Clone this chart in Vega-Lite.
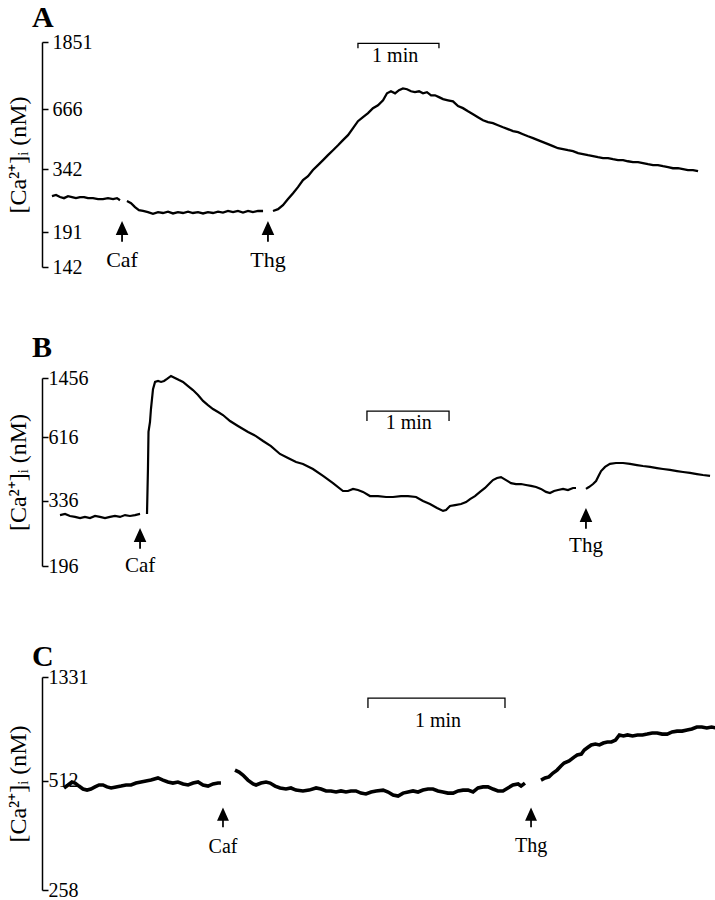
{
  "$schema": "https://vega.github.io/schema/vega-lite/v6.json",
  "background": "white",
  "padding": {"left": 6, "top": 3, "right": 0, "bottom": 0},
  "bounds": "flush",
  "spacing": 111,
  "config": {
    "view": {"stroke": null},
    "font": "Liberation Serif",
    "axisY": {
      "domainColor": "black", "domainWidth": 1.5, "tickColor": "black", "tickWidth": 1.5,
      "tickSize": -6, "labelAlign": "left", "labelPadding": -4, "labelFont": "Liberation Serif",
      "labelFontSize": 20, "labelColor": "black", "grid": false, "titleFont": "Liberation Serif",
      "titleFontSize": 24, "titleFontWeight": "normal", "titleColor": "black", "titlePadding": 11
    },
    "title": {"font": "Liberation Serif", "fontSize": 30, "fontWeight": "bold", "color": "black", "anchor": "start", "frame": "group", "dx": -10}
  },
  "vconcat": [
    {
      "width": 675, "height": 225,
      "title": {"text": "A", "offset": -1},
      "layer": [
        {
          "data": {"values": [
            {"seg":1,"t":7.3,"v":31.5},{"seg":1,"t":10.3,"v":32.0},{"seg":1,"t":13.2,"v":31.1},{"seg":1,"t":16.1,"v":30.6},{"seg":1,"t":19.1,"v":31.5},{"seg":1,"t":22.0,"v":31.1},{"seg":1,"t":24.9,"v":30.6},{"seg":1,"t":27.9,"v":31.1},{"seg":1,"t":30.8,"v":31.1},{"seg":1,"t":33.7,"v":30.6},{"seg":1,"t":37.4,"v":30.6},{"seg":1,"t":41.1,"v":30.2},{"seg":1,"t":44.7,"v":30.2},{"seg":1,"t":48.4,"v":30.6},{"seg":1,"t":52.1,"v":30.2},{"seg":1,"t":55.0,"v":30.6},{"seg":1,"t":57.2,"v":29.7},
            {"seg":2,"t":62.3,"v":29.3},{"seg":2,"t":65.3,"v":28.4},{"seg":2,"t":68.2,"v":26.6},{"seg":2,"t":71.1,"v":25.3},{"seg":2,"t":74.1,"v":24.9},{"seg":2,"t":77.7,"v":24.4},{"seg":2,"t":81.4,"v":23.6},{"seg":2,"t":85.1,"v":24.4},{"seg":2,"t":88.7,"v":24.0},{"seg":2,"t":92.4,"v":24.6},{"seg":2,"t":96.1,"v":23.8},{"seg":2,"t":99.7,"v":24.4},{"seg":2,"t":103.4,"v":24.0},{"seg":2,"t":107.1,"v":24.6},{"seg":2,"t":110.7,"v":24.0},{"seg":2,"t":114.4,"v":24.4},{"seg":2,"t":118.1,"v":23.8},{"seg":2,"t":121.7,"v":24.4},{"seg":2,"t":125.4,"v":24.0},{"seg":2,"t":129.1,"v":24.6},{"seg":2,"t":132.7,"v":24.2},{"seg":2,"t":136.4,"v":24.9},{"seg":2,"t":140.1,"v":24.4},{"seg":2,"t":143.7,"v":24.9},{"seg":2,"t":147.4,"v":24.2},{"seg":2,"t":151.1,"v":24.9},{"seg":2,"t":154.7,"v":24.4},{"seg":2,"t":158.4,"v":24.9},{"seg":2,"t":162.1,"v":24.9},
            {"seg":3,"t":169.4,"v":24.9},{"seg":3,"t":173.1,"v":25.7},{"seg":3,"t":176.7,"v":27.5},{"seg":3,"t":180.4,"v":30.2},{"seg":3,"t":184.1,"v":32.8},{"seg":3,"t":187.7,"v":35.5},{"seg":3,"t":191.4,"v":38.6},{"seg":3,"t":195.1,"v":40.4},{"seg":3,"t":198.7,"v":43.1},{"seg":3,"t":202.4,"v":45.3},{"seg":3,"t":206.1,"v":47.5},{"seg":3,"t":209.7,"v":49.7},{"seg":3,"t":213.4,"v":51.9},{"seg":3,"t":217.1,"v":54.1},{"seg":3,"t":220.7,"v":56.4},{"seg":3,"t":224.4,"v":58.6},{"seg":3,"t":228.1,"v":61.7},{"seg":3,"t":231.7,"v":64.8},{"seg":3,"t":235.4,"v":66.6},{"seg":3,"t":239.1,"v":68.4},{"seg":3,"t":242.7,"v":70.6},{"seg":3,"t":246.4,"v":71.9},{"seg":3,"t":250.1,"v":74.1},{"seg":3,"t":253.0,"v":77.2},{"seg":3,"t":255.9,"v":78.1},{"seg":3,"t":258.9,"v":77.2},{"seg":3,"t":261.8,"v":78.6},{"seg":3,"t":264.7,"v":79.4},{"seg":3,"t":267.7,"v":79.0},{"seg":3,"t":270.6,"v":78.1},{"seg":3,"t":273.5,"v":77.7},{"seg":3,"t":276.5,"v":78.1},{"seg":3,"t":279.4,"v":77.2},{"seg":3,"t":282.3,"v":77.7},{"seg":3,"t":285.3,"v":76.3},{"seg":3,"t":288.2,"v":76.3},{"seg":3,"t":291.1,"v":75.5},{"seg":3,"t":294.1,"v":74.6},{"seg":3,"t":297.7,"v":74.1},{"seg":3,"t":301.4,"v":73.6},{"seg":3,"t":305.1,"v":71.5},{"seg":3,"t":308.7,"v":70.6},{"seg":3,"t":312.4,"v":69.2},{"seg":3,"t":316.1,"v":67.9},{"seg":3,"t":319.7,"v":66.6},{"seg":3,"t":323.4,"v":65.2},{"seg":3,"t":327.1,"v":64.4},{"seg":3,"t":330.7,"v":63.9},{"seg":3,"t":334.4,"v":63.0},{"seg":3,"t":338.1,"v":62.1},{"seg":3,"t":341.7,"v":61.3},{"seg":3,"t":345.4,"v":60.4},{"seg":3,"t":349.1,"v":59.9},{"seg":3,"t":352.7,"v":59.0},{"seg":3,"t":356.4,"v":58.1},{"seg":3,"t":360.1,"v":57.3},{"seg":3,"t":363.7,"v":56.4},{"seg":3,"t":367.4,"v":55.5},{"seg":3,"t":371.1,"v":54.6},{"seg":3,"t":374.7,"v":53.7},{"seg":3,"t":378.4,"v":52.8},{"seg":3,"t":382.1,"v":52.4},{"seg":3,"t":385.7,"v":51.9},{"seg":3,"t":389.4,"v":51.5},{"seg":3,"t":393.1,"v":50.6},{"seg":3,"t":396.7,"v":50.2},{"seg":3,"t":400.4,"v":49.7},{"seg":3,"t":404.1,"v":49.3},{"seg":3,"t":407.7,"v":48.8},{"seg":3,"t":411.4,"v":48.4},{"seg":3,"t":415.1,"v":48.4},{"seg":3,"t":418.7,"v":47.9},{"seg":3,"t":422.4,"v":47.5},{"seg":3,"t":426.1,"v":47.5},{"seg":3,"t":429.7,"v":47.0},{"seg":3,"t":433.4,"v":46.6},{"seg":3,"t":437.1,"v":46.6},{"seg":3,"t":440.7,"v":46.2},{"seg":3,"t":444.4,"v":45.7},{"seg":3,"t":448.1,"v":45.3},{"seg":3,"t":451.7,"v":45.3},{"seg":3,"t":455.4,"v":44.8},{"seg":3,"t":459.1,"v":44.4},{"seg":3,"t":462.7,"v":43.9},{"seg":3,"t":466.4,"v":43.9},{"seg":3,"t":470.1,"v":43.5},{"seg":3,"t":473.7,"v":43.1},{"seg":3,"t":477.4,"v":43.1},{"seg":3,"t":481.1,"v":42.6}
          ]},
          "mark": {"type": "line", "stroke": "black", "strokeWidth": 2.3},
          "encoding": {
            "x": {"field": "t", "type": "quantitative", "scale": {"domain": [0, 495], "nice": false}, "axis": null},
            "y": {"field": "v", "type": "quantitative", "scale": {"domain": [0, 100], "nice": false},
                  "axis": {"title": "[Ca²⁺]ᵢ   (nM)", "values": [0, 15.5, 43.5, 70.1, 100],
                           "labelExpr": "datum.value == 0 ? '142' : datum.value == 15.5 ? '191' : datum.value == 43.5 ? '342' : datum.value == 70.1 ? '666' : '1851'", "labelPadding": -4}},
            "detail": {"field": "seg"}
          }
        },
        {
          "data": {"values": [{"i":0,"t":231.7,"v":97.2},{"i":1,"t":231.7,"v":99.4},{"i":2,"t":291.1,"v":99.4},{"i":3,"t":291.1,"v":97.2}]},
          "mark": {"type": "line", "stroke": "black", "strokeWidth": 1.3},
          "encoding": {"x": {"field": "t", "type": "quantitative"}, "y": {"field": "v", "type": "quantitative"}, "order": {"field": "i"}}
        },
        {
          "data": {"values": [{"t":259,"v":93.6,"label":"1 min"}]},
          "mark": {"type": "text", "fontSize": 20, "baseline": "middle", "align": "center", "color": "black"},
          "encoding": {"x": {"field": "t", "type": "quantitative"}, "y": {"field": "v", "type": "quantitative"}, "text": {"field": "label"}}
        },
        {
          "data": {"values": [{"t":58.7,"v":16.4},{"t":165.7,"v":16.4}]},
          "mark": {"type": "point", "shape": "M0,-1L0.7,0.55L0.1,0.55L0.1,1.3L-0.1,1.3L-0.1,0.55L-0.7,0.55Z", "size": 324, "filled": true, "color": "black", "opacity": 1, "strokeWidth": 0},
          "encoding": {"x": {"field": "t", "type": "quantitative"}, "y": {"field": "v", "type": "quantitative"}}
        },
        {
          "data": {"values": [{"t":58.7,"v":0,"label":"Caf"},{"t":165.7,"v":0,"label":"Thg"}]},
          "mark": {"type": "text", "fontSize": 22, "baseline": "alphabetic", "align": "center", "color": "black"},
          "encoding": {"x": {"field": "t", "type": "quantitative"}, "y": {"field": "v", "type": "quantitative"}, "text": {"field": "label"}}
        }
      ]
    },
    {
      "width": 675, "height": 188,
      "title": {"text": "B", "offset": 5},
      "layer": [
        {
          "data": {"values": [
            {"seg":1,"t":13.2,"v":27.1},{"seg":1,"t":16.9,"v":27.7},{"seg":1,"t":20.5,"v":26.6},{"seg":1,"t":24.2,"v":26.1},{"seg":1,"t":27.9,"v":25.5},{"seg":1,"t":31.5,"v":26.1},{"seg":1,"t":35.2,"v":25.5},{"seg":1,"t":38.9,"v":26.6},{"seg":1,"t":42.5,"v":26.1},{"seg":1,"t":46.2,"v":25.5},{"seg":1,"t":49.9,"v":26.1},{"seg":1,"t":53.5,"v":26.6},{"seg":1,"t":57.2,"v":26.1},{"seg":1,"t":60.9,"v":27.1},{"seg":1,"t":64.5,"v":26.6},{"seg":1,"t":68.2,"v":27.1},{"seg":1,"t":71.9,"v":27.7},
            {"seg":2,"t":77.0,"v":27.7},{"seg":2,"t":77.7,"v":51.6},{"seg":2,"t":78.1,"v":71.3},{"seg":2,"t":79.2,"v":76.6},{"seg":2,"t":79.9,"v":83.5},{"seg":2,"t":81.4,"v":94.1},{"seg":2,"t":82.9,"v":97.9},{"seg":2,"t":85.1,"v":98.4},{"seg":2,"t":87.3,"v":97.9},{"seg":2,"t":89.5,"v":98.4},{"seg":2,"t":91.7,"v":99.5},{"seg":2,"t":94.6,"v":101.1},{"seg":2,"t":97.5,"v":100.0},{"seg":2,"t":100.5,"v":98.9},{"seg":2,"t":103.4,"v":97.9},{"seg":2,"t":107.1,"v":95.7},{"seg":2,"t":110.7,"v":93.6},{"seg":2,"t":114.4,"v":91.0},{"seg":2,"t":118.1,"v":87.8},{"seg":2,"t":121.7,"v":85.6},{"seg":2,"t":125.4,"v":83.5},{"seg":2,"t":129.1,"v":81.9},{"seg":2,"t":132.7,"v":80.3},{"seg":2,"t":137.9,"v":77.1},{"seg":2,"t":143.7,"v":74.5},{"seg":2,"t":151.1,"v":71.3},{"seg":2,"t":156.9,"v":69.1},{"seg":2,"t":162.1,"v":66.5},{"seg":2,"t":167.9,"v":63.8},{"seg":2,"t":174.5,"v":59.6},{"seg":2,"t":180.4,"v":57.4},{"seg":2,"t":186.3,"v":55.3},{"seg":2,"t":191.4,"v":54.3},{"seg":2,"t":198.7,"v":51.6},{"seg":2,"t":206.1,"v":47.9},{"seg":2,"t":213.4,"v":44.1},{"seg":2,"t":220.7,"v":39.9},{"seg":2,"t":224.4,"v":39.9},{"seg":2,"t":228.1,"v":41.0},{"seg":2,"t":231.7,"v":40.4},{"seg":2,"t":235.4,"v":39.4},{"seg":2,"t":240.5,"v":37.2},{"seg":2,"t":246.4,"v":37.2},{"seg":2,"t":252.3,"v":36.7},{"seg":2,"t":257.4,"v":36.7},{"seg":2,"t":263.3,"v":37.2},{"seg":2,"t":268.4,"v":37.2},{"seg":2,"t":274.3,"v":36.7},{"seg":2,"t":279.4,"v":34.6},{"seg":2,"t":284.5,"v":33.0},{"seg":2,"t":289.7,"v":30.9},{"seg":2,"t":294.1,"v":29.3},{"seg":2,"t":296.3,"v":29.8},{"seg":2,"t":299.2,"v":31.9},{"seg":2,"t":302.9,"v":32.4},{"seg":2,"t":307.3,"v":33.0},{"seg":2,"t":311.0,"v":34.0},{"seg":2,"t":313.9,"v":35.6},{"seg":2,"t":317.5,"v":37.2},{"seg":2,"t":321.2,"v":39.4},{"seg":2,"t":324.9,"v":41.5},{"seg":2,"t":328.5,"v":44.1},{"seg":2,"t":330.7,"v":45.7},{"seg":2,"t":333.7,"v":46.8},{"seg":2,"t":336.6,"v":47.3},{"seg":2,"t":340.3,"v":45.7},{"seg":2,"t":343.9,"v":44.1},{"seg":2,"t":347.6,"v":43.6},{"seg":2,"t":351.3,"v":43.6},{"seg":2,"t":354.9,"v":43.1},{"seg":2,"t":358.6,"v":42.6},{"seg":2,"t":362.3,"v":42.0},{"seg":2,"t":365.9,"v":41.0},{"seg":2,"t":369.6,"v":39.4},{"seg":2,"t":372.5,"v":38.8},{"seg":2,"t":375.5,"v":39.9},{"seg":2,"t":378.4,"v":40.4},{"seg":2,"t":382.1,"v":41.0},{"seg":2,"t":385.7,"v":40.4},{"seg":2,"t":389.4,"v":41.5},{"seg":2,"t":391.6,"v":41.5},
            {"seg":3,"t":398.9,"v":41.0},{"seg":3,"t":401.1,"v":42.0},{"seg":3,"t":404.1,"v":43.6},{"seg":3,"t":406.3,"v":45.2},{"seg":3,"t":408.5,"v":48.4},{"seg":3,"t":410.0,"v":50.5},{"seg":3,"t":412.9,"v":52.7},{"seg":3,"t":416.5,"v":54.3},{"seg":3,"t":420.9,"v":54.8},{"seg":3,"t":426.1,"v":54.8},{"seg":3,"t":431.2,"v":54.3},{"seg":3,"t":436.3,"v":53.7},{"seg":3,"t":440.7,"v":53.2},{"seg":3,"t":445.9,"v":52.7},{"seg":3,"t":451.0,"v":52.1},{"seg":3,"t":455.4,"v":51.6},{"seg":3,"t":460.5,"v":51.1},{"seg":3,"t":465.7,"v":50.5},{"seg":3,"t":470.1,"v":50.0},{"seg":3,"t":475.2,"v":49.5},{"seg":3,"t":480.3,"v":48.9},{"seg":3,"t":484.7,"v":48.4},{"seg":3,"t":489.9,"v":47.9}
          ]},
          "mark": {"type": "line", "stroke": "black", "strokeWidth": 2.2},
          "encoding": {
            "x": {"field": "t", "type": "quantitative", "scale": {"domain": [0, 495], "nice": false}, "axis": null},
            "y": {"field": "v", "type": "quantitative", "scale": {"domain": [0, 100], "nice": false},
                  "axis": {"title": "[Ca²⁺]ᵢ   (nM)", "values": [0, 34.6, 68.6, 100],
                           "labelExpr": "datum.value == 0 ? '196' : datum.value == 34.6 ? '336' : datum.value == 68.6 ? '616' : '1456'", "labelPadding": 0}},
            "detail": {"field": "seg"}
          }
        },
        {
          "data": {"values": [{"i":0,"t":238.3,"v":77.1},{"i":1,"t":238.3,"v":82.4},{"i":2,"t":298.5,"v":82.4},{"i":3,"t":298.5,"v":77.1}]},
          "mark": {"type": "line", "stroke": "black", "strokeWidth": 1.3},
          "encoding": {"x": {"field": "t", "type": "quantitative"}, "y": {"field": "v", "type": "quantitative"}, "order": {"field": "i"}}
        },
        {
          "data": {"values": [{"t":269,"v":75.8,"label":"1 min"}]},
          "mark": {"type": "text", "fontSize": 20, "baseline": "middle", "align": "center", "color": "black"},
          "encoding": {"x": {"field": "t", "type": "quantitative"}, "y": {"field": "v", "type": "quantitative"}, "text": {"field": "label"}}
        },
        {
          "data": {"values": [{"t":71.9,"v":15.4},{"t":398.9,"v":26.1}]},
          "mark": {"type": "point", "shape": "M0,-1L0.7,0.55L0.1,0.55L0.1,1.3L-0.1,1.3L-0.1,0.55L-0.7,0.55Z", "size": 324, "filled": true, "color": "black", "opacity": 1, "strokeWidth": 0},
          "encoding": {"x": {"field": "t", "type": "quantitative"}, "y": {"field": "v", "type": "quantitative"}}
        },
        {
          "data": {"values": [{"t":71.9,"v":-3.2,"label":"Caf"},{"t":398.9,"v":7.4,"label":"Thg"}]},
          "mark": {"type": "text", "fontSize": 21, "baseline": "alphabetic", "align": "center", "color": "black"},
          "encoding": {"x": {"field": "t", "type": "quantitative"}, "y": {"field": "v", "type": "quantitative"}, "text": {"field": "label"}}
        }
      ]
    },
    {
      "width": 675, "height": 213,
      "title": {"text": "C", "offset": -5},
      "layer": [
        {
          "data": {"values": [
            {"seg":1,"t":9.7,"v":47.9},{"seg":1,"t":11.5,"v":49.3},{"seg":1,"t":13.2,"v":50.7},{"seg":1,"t":14.6,"v":50.2},{"seg":1,"t":16.3,"v":48.8},{"seg":1,"t":18.1,"v":47.4},{"seg":1,"t":19.9,"v":46.9},{"seg":1,"t":21.6,"v":47.4},{"seg":1,"t":23.4,"v":48.4},{"seg":1,"t":25.2,"v":49.3},{"seg":1,"t":26.9,"v":49.3},{"seg":1,"t":28.7,"v":48.4},{"seg":1,"t":30.5,"v":47.9},{"seg":1,"t":32.7,"v":48.4},{"seg":1,"t":34.9,"v":48.8},{"seg":1,"t":37.1,"v":49.3},{"seg":1,"t":39.3,"v":49.3},{"seg":1,"t":41.5,"v":50.2},{"seg":1,"t":43.7,"v":50.7},{"seg":1,"t":45.9,"v":51.2},{"seg":1,"t":48.1,"v":51.6},{"seg":1,"t":51.2,"v":52.6},{"seg":1,"t":53.4,"v":51.6},{"seg":1,"t":55.6,"v":50.7},{"seg":1,"t":57.8,"v":50.2},{"seg":1,"t":60.0,"v":50.7},{"seg":1,"t":62.3,"v":49.8},{"seg":1,"t":64.5,"v":49.3},{"seg":1,"t":66.7,"v":50.2},{"seg":1,"t":68.9,"v":50.7},{"seg":1,"t":71.1,"v":49.3},{"seg":1,"t":73.3,"v":48.8},{"seg":1,"t":75.5,"v":49.8},{"seg":1,"t":77.7,"v":50.2},{"seg":1,"t":79.0,"v":50.2},
            {"seg":2,"t":85.2,"v":56.3},{"seg":2,"t":87.0,"v":55.4},{"seg":2,"t":88.7,"v":54.0},{"seg":2,"t":90.9,"v":51.6},{"seg":2,"t":93.2,"v":49.8},{"seg":2,"t":94.5,"v":49.3},{"seg":2,"t":96.7,"v":50.2},{"seg":2,"t":98.9,"v":50.7},{"seg":2,"t":100.7,"v":50.2},{"seg":2,"t":102.9,"v":48.8},{"seg":2,"t":105.1,"v":47.9},{"seg":2,"t":107.7,"v":47.4},{"seg":2,"t":109.9,"v":47.9},{"seg":2,"t":112.1,"v":46.9},{"seg":2,"t":115.2,"v":46.5},{"seg":2,"t":117.9,"v":46.9},{"seg":2,"t":121.0,"v":47.9},{"seg":2,"t":123.2,"v":47.4},{"seg":2,"t":125.4,"v":46.5},{"seg":2,"t":127.6,"v":46.5},{"seg":2,"t":129.8,"v":46.0},{"seg":2,"t":132.0,"v":46.5},{"seg":2,"t":134.2,"v":46.0},{"seg":2,"t":136.4,"v":46.5},{"seg":2,"t":138.6,"v":46.5},{"seg":2,"t":140.8,"v":45.5},{"seg":2,"t":143.0,"v":45.1},{"seg":2,"t":145.3,"v":46.0},{"seg":2,"t":147.5,"v":46.5},{"seg":2,"t":150.6,"v":46.9},{"seg":2,"t":152.8,"v":46.0},{"seg":2,"t":155.0,"v":44.6},{"seg":2,"t":157.2,"v":44.1},{"seg":2,"t":159.4,"v":45.5},{"seg":2,"t":161.6,"v":46.0},{"seg":2,"t":163.8,"v":46.5},{"seg":2,"t":166.0,"v":46.0},{"seg":2,"t":168.2,"v":46.9},{"seg":2,"t":170.4,"v":47.4},{"seg":2,"t":172.6,"v":47.4},{"seg":2,"t":174.8,"v":46.5},{"seg":2,"t":177.0,"v":46.0},{"seg":2,"t":179.2,"v":45.5},{"seg":2,"t":181.5,"v":45.5},{"seg":2,"t":183.7,"v":46.5},{"seg":2,"t":185.9,"v":46.9},{"seg":2,"t":188.1,"v":46.9},{"seg":2,"t":190.3,"v":46.0},{"seg":2,"t":192.5,"v":47.9},{"seg":2,"t":194.7,"v":48.4},{"seg":2,"t":196.9,"v":48.4},{"seg":2,"t":199.1,"v":47.4},{"seg":2,"t":201.3,"v":46.5},{"seg":2,"t":203.5,"v":46.5},{"seg":2,"t":205.7,"v":47.9},{"seg":2,"t":207.9,"v":49.3},{"seg":2,"t":210.2,"v":49.8},{"seg":2,"t":211.5,"v":48.8},{"seg":2,"t":213.2,"v":50.2},
            {"seg":3,"t":220.3,"v":51.6},{"seg":3,"t":222.1,"v":52.6},{"seg":3,"t":223.8,"v":53.1},{"seg":3,"t":225.6,"v":54.9},{"seg":3,"t":227.4,"v":56.3},{"seg":3,"t":229.1,"v":58.2},{"seg":3,"t":230.5,"v":59.6},{"seg":3,"t":232.7,"v":60.6},{"seg":3,"t":234.9,"v":62.4},{"seg":3,"t":236.3,"v":63.4},{"seg":3,"t":238.1,"v":63.8},{"seg":3,"t":239.4,"v":65.7},{"seg":3,"t":241.2,"v":67.1},{"seg":3,"t":242.5,"v":68.1},{"seg":3,"t":244.3,"v":68.5},{"seg":3,"t":246.1,"v":68.1},{"seg":3,"t":247.8,"v":69.0},{"seg":3,"t":249.6,"v":69.5},{"seg":3,"t":251.4,"v":69.5},{"seg":3,"t":253.2,"v":70.4},{"seg":3,"t":254.9,"v":72.8},{"seg":3,"t":256.7,"v":72.3},{"seg":3,"t":258.5,"v":72.8},{"seg":3,"t":260.7,"v":72.3},{"seg":3,"t":262.9,"v":72.8},{"seg":3,"t":265.1,"v":72.8},{"seg":3,"t":267.2,"v":73.2},{"seg":3,"t":269.4,"v":73.7},{"seg":3,"t":271.6,"v":73.7},{"seg":3,"t":273.8,"v":73.2},{"seg":3,"t":276.0,"v":73.2},{"seg":3,"t":278.2,"v":74.2},{"seg":3,"t":280.4,"v":74.6},{"seg":3,"t":282.6,"v":74.6},{"seg":3,"t":284.8,"v":75.1},{"seg":3,"t":286.9,"v":75.6},{"seg":3,"t":289.1,"v":76.5},{"seg":3,"t":291.3,"v":76.5},{"seg":3,"t":293.5,"v":76.1},{"seg":3,"t":295.6,"v":76.5},{"seg":3,"t":297.4,"v":76.1}
          ]},
          "mark": {"type": "line", "stroke": "black", "strokeWidth": 3.6},
          "encoding": {
            "x": {"field": "t", "type": "quantitative", "scale": {"domain": [0, 298], "nice": false}, "axis": null},
            "y": {"field": "v", "type": "quantitative", "scale": {"domain": [0, 100], "nice": false},
                  "axis": {"title": "[Ca²⁺]ᵢ   (nM)", "values": [0, 51.2, 100],
                           "labelExpr": "datum.value == 0 ? '258' : datum.value == 51.2 ? '512' : '1331'", "labelPadding": 0}},
            "detail": {"field": "seg"}
          }
        },
        {
          "data": {"values": [{"i":0,"t":143.9,"v":85.4},{"i":1,"t":143.9,"v":90.1},{"i":2,"t":204.4,"v":90.1},{"i":3,"t":204.4,"v":85.4}]},
          "mark": {"type": "line", "stroke": "black", "strokeWidth": 1.3},
          "encoding": {"x": {"field": "t", "type": "quantitative"}, "y": {"field": "v", "type": "quantitative"}, "order": {"field": "i"}}
        },
        {
          "data": {"values": [{"t":174.8,"v":79.5,"label":"1 min"}]},
          "mark": {"type": "text", "fontSize": 20, "baseline": "middle", "align": "center", "color": "black"},
          "encoding": {"x": {"field": "t", "type": "quantitative"}, "y": {"field": "v", "type": "quantitative"}, "text": {"field": "label"}}
        },
        {
          "data": {"values": [{"t":79.9,"v":34.7},{"t":215.9,"v":34.7}]},
          "mark": {"type": "point", "shape": "M0,-1L0.7,0.55L0.1,0.55L0.1,1.3L-0.1,1.3L-0.1,0.55L-0.7,0.55Z", "size": 289, "filled": true, "color": "black", "opacity": 1, "strokeWidth": 0},
          "encoding": {"x": {"field": "t", "type": "quantitative"}, "y": {"field": "v", "type": "quantitative"}}
        },
        {
          "data": {"values": [{"t":79.9,"v":17.4,"label":"Caf"},{"t":215.9,"v":18.0,"label":"Thg"}]},
          "mark": {"type": "text", "fontSize": 20, "baseline": "alphabetic", "align": "center", "color": "black"},
          "encoding": {"x": {"field": "t", "type": "quantitative"}, "y": {"field": "v", "type": "quantitative"}, "text": {"field": "label"}}
        }
      ]
    }
  ]
}
